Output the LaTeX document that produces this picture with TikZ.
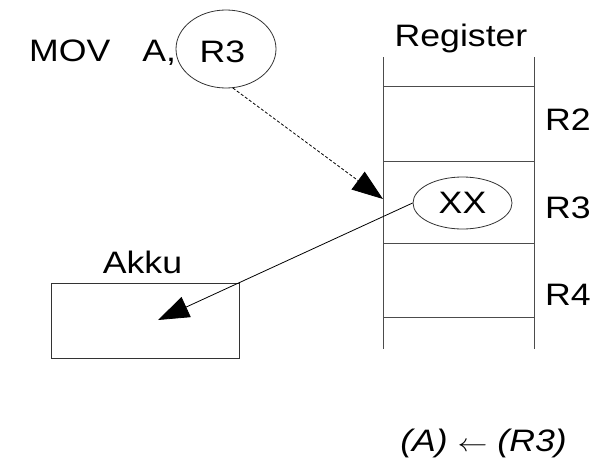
\documentclass[tikz,border=0pt]{standalone}
\usepackage{fontspec}
\usepackage{graphicx}
\setmainfont{Liberation Sans}[FakeStretch=1.15]
\usetikzlibrary{arrows.meta,shapes.geometric}

\tikzset{
  lbl/.style={inner sep=0pt, font=\fontsize{31}{36}\selectfont},
  regline/.style={draw=black!70, line width=0.9pt},
  oval/.style={ellipse, draw=black!80, line width=0.8pt, inner sep=0pt},
  bigtip/.style={-{Triangle[length=31pt,width=22pt]}, line width=0.8pt},
}

\begin{document}
\begin{tikzpicture}[x=1pt,y=-1pt]
  \useasboundingbox (0,0) rectangle (601,460);

  % instruction
  \node[lbl, anchor=base west] (mov) at (29,61) {MOV\hspace{32pt}A,};
  \node[oval, minimum width=100pt, minimum height=78pt] (opnd) at (226,49) {};
  \node[lbl, anchor=base] (opndtext) at (222.5,62) {R3};

  % register file
  \node[lbl, anchor=base] (regtitle) at (461,47) {Register};
  \draw[regline] (383,57) -- (383,349);
  \draw[regline] (534,57) -- (534,349);
  \foreach \yy in {86,161,243,317} \draw[regline] (383,\yy) -- (534,\yy);
  \node[lbl, anchor=base west] (r2) at (545,130) {R2};
  \node[lbl, anchor=base west] (r3) at (545,218) {R3};
  \node[lbl, anchor=base west] (r4) at (545,305) {R4};
  \node[oval, lbl, minimum width=99pt, minimum height=52pt] (xx) at (462.5,203) {XX};
  \coordinate (regin) at (383,199);

  % accumulator
  \node[draw=black!80, line width=0.9pt, minimum width=188pt, minimum height=75pt, inner sep=0pt] (akku) at (145,320.5) {};
  \node[lbl, anchor=base] (akkutitle) at (142.5,273) {Akku};
  \coordinate (akkuin) at (158,320);

  % data paths
  \draw[bigtip, dash pattern=on 3pt off 2pt] (opnd.280) -- (regin);
  \draw[bigtip] (xx.west) -- (akkuin);

  % transfer notation
  \node[lbl, anchor=base] (rtn) at (483.5,451) {\textit{(A)} \scalebox{1.2}[1]{$\leftarrow$} \textit{(R3)}};
\end{tikzpicture}
\end{document}
